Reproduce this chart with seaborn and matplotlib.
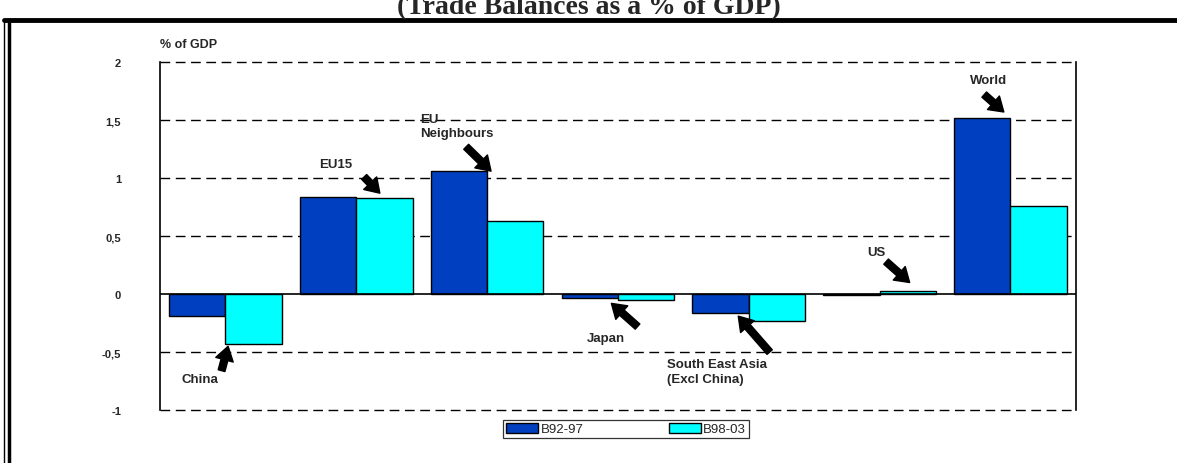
import pandas as pd
import matplotlib.pyplot as plt
import seaborn as sns
from matplotlib.lines import Line2D

# donnees (solde commercial en % du PIB)
regions = ["China", "EU15", "EU Neighbours", "Japan", "South East Asia", "US", "World"]
b92_97 = [-0.19, 0.84, 1.06, -0.03, -0.16, -0.01, 1.52]
b98_03 = [-0.43, 0.83, 0.63, -0.05, -0.23, 0.03, 0.76]
periods = ["B92-97", "B98-03"]
yticks = [-1, -0.5, 0, 0.5, 1, 1.5, 2]
ytick_labels = ["-1", "-0,5", "0", "0,5", "1", "1,5", "2"]

df = pd.DataFrame({
    "region": regions * 2,
    "period": [periods[0]] * len(regions) + [periods[1]] * len(regions),
    "value": b92_97 + b98_03,
})

sns.set_style("white")
plt.rcParams["font.family"] = ["Liberation Sans", "DejaVu Sans"]

fig = plt.figure(figsize=(11.77, 4.64), dpi=100)
ax = fig.add_axes([0.136, 0.114, 0.778, 0.750])

sns.barplot(data=df, x="region", y="value", hue="period", order=regions,
            palette=["#0040C0", "#00FFFF"], width=0.86, edgecolor="black",
            linewidth=1, saturation=1, ax=ax, legend=True)

ax.set_ylim(-1, 2)
ax.set_xlim(-0.5, len(regions) - 0.5)
ax.set_yticks(yticks)
ax.set_yticklabels(ytick_labels, fontsize=8, fontweight="bold")
ax.tick_params(axis="y", length=0, pad=28)
ax.set_xticks([])
ax.set_xlabel("")
ax.set_ylabel("")

# grille en pointillés
for y in yticks:
    if y != 0:
        ax.axhline(y, color="black", ls=(0, (7, 4)), lw=1, zorder=0, clip_on=False)
ax.axhline(0, color="black", lw=1.2, zorder=3)
for side in ["top", "bottom"]:
    ax.spines[side].set_visible(False)
for side in ["left", "right"]:
    ax.spines[side].set_color("black")
    ax.spines[side].set_linewidth(1.2)

ax.text(0, 1.035, "% of GDP", transform=ax.transAxes, fontsize=9, fontweight="bold",
        ha="left", va="bottom")

# etiquettes et flèches
notes = [
    ("China", (-0.195, -0.73), "center", (-0.03, -0.66), (0.02, -0.45)),
    ("EU15", (0.84, 1.12), "center", (1.06, 1.01), (1.18, 0.87)),
    ("EU\nNeighbours", (1.485, 1.45), "left", (1.84, 1.27), (2.03, 1.06)),
    ("Japan", (2.905, -0.38), "center", (3.15, -0.28), (2.95, -0.08)),
    ("South East Asia\n(Excl China)", (3.378, -0.67), "left", (4.16, -0.5), (3.92, -0.19)),
    ("US", (4.973, 0.36), "center", (5.05, 0.28), (5.23, 0.10)),
    ("World", (5.836, 1.85), "center", (5.80, 1.72), (5.95, 1.57)),
]
for label, pos, ha, tail, tip in notes:
    ax.text(pos[0], pos[1], label, ha=ha, va="center", fontsize=9.5,
            fontweight="bold", linespacing=1.3, zorder=5)
    ax.annotate("", xy=tip, xytext=tail,
                arrowprops=dict(arrowstyle="simple,head_width=1.3,head_length=1.0,tail_width=0.5",
                                color="black", shrinkA=0, shrinkB=0), zorder=5)

handles, labels = ax.get_legend_handles_labels()
ax.get_legend().remove()
leg = fig.legend(handles, labels, loc="center", bbox_to_anchor=(0.532, 0.073), ncol=2,
                 frameon=True, fancybox=False, edgecolor="black", fontsize=9.5,
                 handlelength=2.4, handleheight=0.8, handletextpad=0.2,
                 columnspacing=6.5, borderpad=0.2)
leg.get_frame().set_linewidth(0.9)

# titre coupé et cadre
fig.text(0.5, 1 - 14 / 464, "(Trade Balances as a % of GDP)", ha="center", va="baseline",
         fontsize=20, fontweight="bold", family=["Liberation Serif", "DejaVu Serif"])
fig.add_artist(Line2D([4 / 1177, 1], [1 - 21 / 464] * 2, color="black", lw=3.5,
                      transform=fig.transFigure))
fig.add_artist(Line2D([4 / 1177] * 2, [0, 1 - 21 / 464], color="black", lw=1,
                      transform=fig.transFigure))
fig.add_artist(Line2D([9 / 1177] * 2, [0, 1 - 21 / 464], color="black", lw=2.5,
                      transform=fig.transFigure))

fig.savefig("out.png", dpi=100)
